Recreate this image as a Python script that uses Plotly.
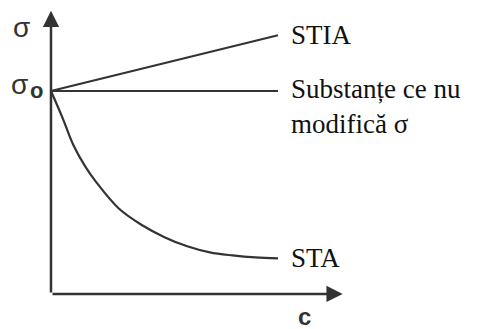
import plotly.graph_objects as go

# schematic data (c units, sigma units)
c_line = [0, 10]
stia = [10, 12.75]
neutral = [10, 10]
c_sta = [0, 0.5, 1, 1.5, 2, 3, 4, 5, 6, 7, 8, 9, 10]
sta = [10, 8.7, 7.3, 6.3, 5.5, 4.2, 3.4, 2.8, 2.35, 2.05, 1.9, 1.8, 1.75]
labels = ["STIA", "Substanțe ce nu<br>modifică σ", "STA"]

line_col = "#333333"
fig = go.Figure()
fig.add_trace(go.Scatter(x=c_line, y=stia, mode="lines", line=dict(color=line_col, width=2.2)))
fig.add_trace(go.Scatter(x=c_line, y=neutral, mode="lines", line=dict(color=line_col, width=2.2)))
fig.add_trace(go.Scatter(x=c_sta, y=sta, mode="lines", line=dict(color=line_col, width=2.2, shape="spline", smoothing=1)))

# axes with arrows
fig.add_annotation(x=0, y=13.95, ax=0, ay=0, xref="x", yref="y", axref="x", ayref="y",
                   showarrow=True, arrowhead=2, arrowsize=1.3, arrowwidth=2.5, arrowcolor=line_col, text="")
fig.add_annotation(x=12.85, y=0, ax=0, ay=0, xref="x", yref="y", axref="x", ayref="y",
                   showarrow=True, arrowhead=2, arrowsize=1.3, arrowwidth=2.5, arrowcolor=line_col, text="")

serif = dict(family="Liberation Serif", size=27, color="#111111")
fig.add_annotation(x=10.5, y=stia[1], text=labels[0], showarrow=False, xanchor="left", yanchor="middle", font=serif)
fig.add_annotation(x=10.5, y=neutral[1] - 0.75, text=labels[1], showarrow=False, xanchor="left", yanchor="middle",
                   font=serif, align="left")
fig.add_annotation(x=10.5, y=sta[-1], text=labels[2], showarrow=False, xanchor="left", yanchor="middle", font=serif)

sans = dict(family="Liberation Sans", size=28, color="#333333")
fig.add_annotation(x=-1.28, y=13.15, text="σ", showarrow=False, xanchor="center", yanchor="middle", font=sans)
fig.add_annotation(x=-1.39, y=10.3, text="σ", showarrow=False, xanchor="center", yanchor="middle", font=sans)
fig.add_annotation(x=-0.66, y=10.05, text="<b>o</b>", showarrow=False, xanchor="center", yanchor="middle",
                   font=dict(family="Liberation Sans", size=22, color="#333333"))
fig.add_annotation(x=11.15, y=-1.1, text="<b>c</b>", showarrow=False, xanchor="center", yanchor="middle",
                   height=18, valign="middle", borderpad=0,
                   font=dict(family="Liberation Sans", size=24, color="#333333"))

fig.update_layout(
    width=477, height=329, margin=dict(l=0, r=0, t=0, b=0),
    paper_bgcolor="white", plot_bgcolor="white", showlegend=False,
    xaxis=dict(range=[-1.894, 19.12], visible=False, fixedrange=True),
    yaxis=dict(range=[-2.12, 14.09], visible=False, fixedrange=True),
)
fig.write_html("out.html")
